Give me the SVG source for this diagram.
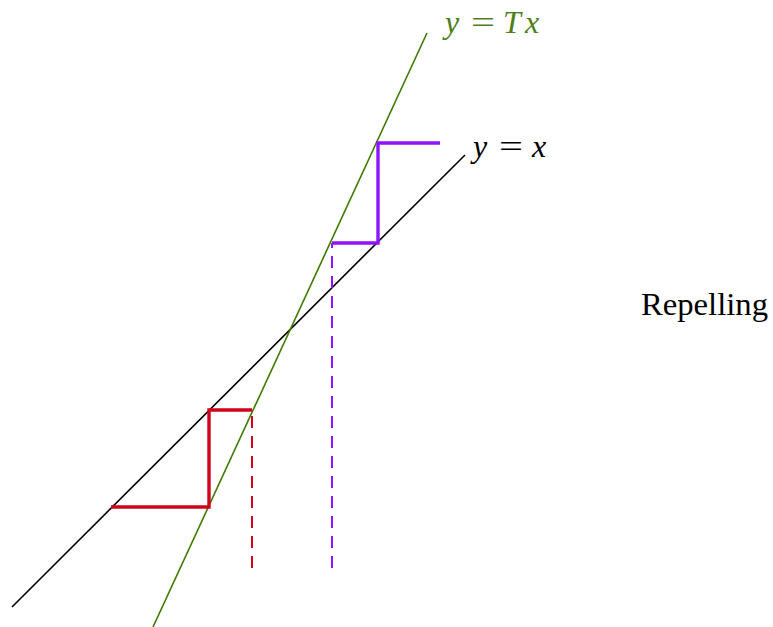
<svg xmlns="http://www.w3.org/2000/svg" width="773" height="627" viewBox="0 0 773 627">
<style>
.axis{stroke:#000;stroke-width:1.6;fill:none}
.tline{stroke:#3f7a00;stroke-width:1.6;fill:none}
.red{stroke:#d0021b;stroke-width:3.4;fill:none;stroke-linejoin:miter}
.purple{stroke:#9013fe;stroke-width:3.4;fill:none;stroke-linejoin:miter}
.rdash{stroke:#d0021b;stroke-width:2;stroke-dasharray:12 8;fill:none}
.pdash{stroke:#9013fe;stroke-width:2;stroke-dasharray:12 8;fill:none}
.it{font-family:"Liberation Serif","DejaVu Serif",serif;font-style:italic;font-size:32px}
.up{font-family:"Liberation Serif","DejaVu Serif",serif;font-size:32px}
.txt{font-family:"Liberation Serif","DejaVu Serif",serif;font-size:31px}
</style>
<rect width="773" height="627" fill="#fff"/>
<g id="connectors">
<line class="axis" x1="12" y1="607" x2="465" y2="155"/>
<line class="tline" x1="153" y1="627" x2="427" y2="33"/>
<line class="rdash" x1="252" y1="568" x2="252" y2="410"/>
<line class="pdash" x1="332" y1="568" x2="332" y2="243"/>
<polyline class="red" points="111,507 209,507 209,410 252,410"/>
<polyline class="purple" points="332,243 378,243 378,143 440,143"/>
</g>
<g id="label-Tx" fill="#4d7f1a">
<text class="it" x="445" y="33">y</text>
<text class="up" x="471" y="33" textLength="24" lengthAdjust="spacingAndGlyphs">=</text>
<text class="it" x="503" y="33">T</text>
<text class="it" x="525" y="33">x</text>
</g>
<g id="label-x" fill="#000">
<text class="it" x="473" y="157">y</text>
<text class="up" x="499" y="157" textLength="24" lengthAdjust="spacingAndGlyphs">=</text>
<text class="it" x="532" y="157">x</text>
</g>
<g id="label-repelling"><text class="txt" x="641" y="315" fill="#000" textLength="127" lengthAdjust="spacingAndGlyphs">Repelling</text></g>
</svg>
